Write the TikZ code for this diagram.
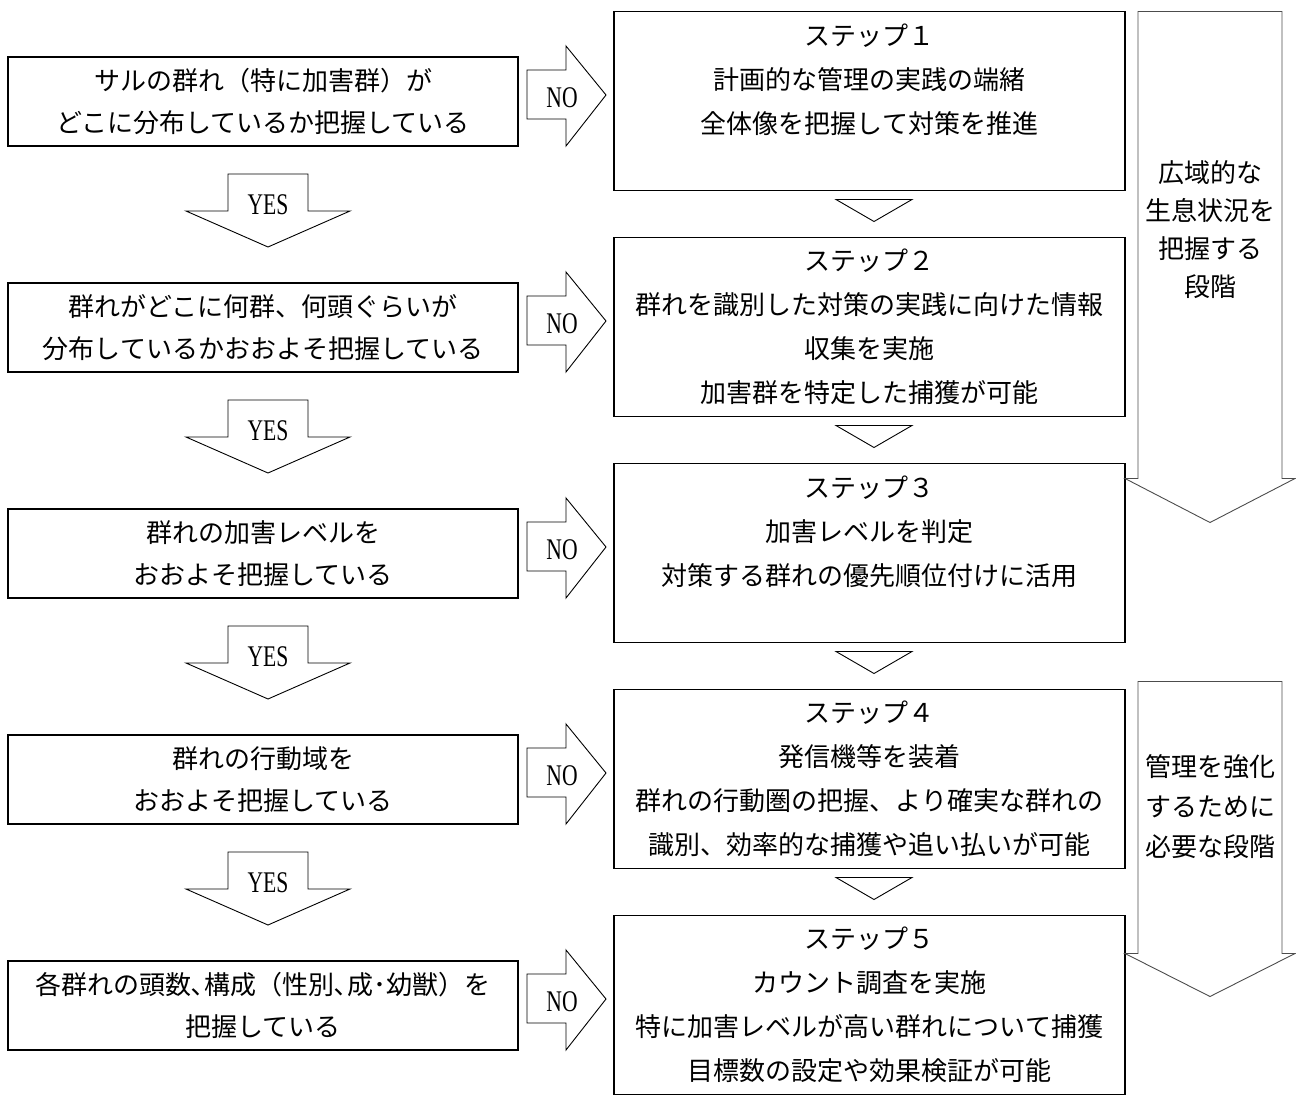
\documentclass[tikz,border=0pt]{standalone}
\usepackage{fontspec}
\usepackage{graphicx}
\setmainfont{Noto Sans CJK JP}
\newfontfamily\yesnofont{Liberation Serif}
\usetikzlibrary{
  positioning,
  calc}
\tikzset{
  %% question : the questions on the left
  question/.style={
    rectangle,
    draw=black,
    line width=1.6pt,
    minimum width=510pt,
    minimum height=89pt,
    inner sep=0pt,
    outer sep=0pt,
    font=\fontsize{26}{42}\selectfont,
    align=center
  },
  %% stepbox : one step of the management
  %%      ("step" is predefined and can't be used)
  stepbox/.style={
    rectangle,
    draw=black,
    line width=1.6pt,
    minimum width=511pt,
    minimum height=179pt,
    inner sep=0pt,
    outer sep=0pt,
    font=\fontsize{26}{44}\selectfont,
    align=center
  },
  %% blockarrow : outline of the YES / NO arrows
  blockarrow/.style={draw=black, line width=0.9pt},
  %% stagearrow : the big arrows on the right
  stagearrow/.style={draw=black!70, line width=0.9pt},
  %% stagetext : text inside the big arrows
  stagetext/.style={
    align=center,
    inner sep=0pt
  },
  %% answer : YES / NO
  answer/.style={
    font=\yesnofont\fontsize{30}{30}\selectfont,
    inner sep=0pt
  }
}
\tikzset{
  noarrow/.pic = {
    \draw [blockarrow] (9,-31.5) -- (48,-31.5) -- (48,-55.5) -- (88,-6.5)
      -- (48,44.5) -- (48,17.5) -- (9,17.5) -- cycle;
    \node (-t) [answer] at (44,-3.5) {\scalebox{0.72}[1]{NO}};
  }
}
\tikzset{
  yesarrow/.pic = {
    \draw [blockarrow] (-35,28) -- (45,28) -- (45,65) -- (87,65)
      -- (5,101) -- (-77,65) -- (-35,65) -- cycle;
    \node (-t) [answer] at (5,59) {\scalebox{0.72}[1]{YES}};
  }
}
\tikzset{
  nextstep/.pic = {
    \draw [blockarrow] (-33.5,9) -- (42.5,9) -- (4.5,31) -- cycle;
  }
}

\begin{document}
\begin{tikzpicture}
  [x=1pt,
  y=-1pt]

  \useasboundingbox (0,0) rectangle (1296,1095);

  %% Questions
  \node (q1) [question] at (263,101.5) {%
    サルの群れ（特に加害群）が\\どこに分布しているか把握している
  };

  \node (q2) [question, below=137pt of q1] {%
    群れがどこに何群、何頭ぐらいが\\分布しているかおおよそ把握している
  };

  \node (q3) [question, below=137pt of q2] {%
    群れの加害レベルを\\おおよそ把握している
  };

  \node (q4) [question, below=137pt of q3] {%
    群れの行動域を\\おおよそ把握している
  };

  \node (q5) [question, below=137pt of q4] {%
    各群れの頭数､構成（性別､成･幼獣）を\\把握している
  };

  %% Steps
  \node (s1) [stepbox] at (869.5,101) {%
    ステップ１\\計画的な管理の実践の端緒\\全体像を把握して対策を推進\\\phantom{ス}
  };

  \node (s2) [stepbox, below=47pt of s1] {%
    ステップ２\\群れを識別した対策の実践に向けた情報\\収集を実施\\加害群を特定した捕獲が可能
  };

  \node (s3) [stepbox, below=47pt of s2] {%
    ステップ３\\加害レベルを判定\\対策する群れの優先順位付けに活用\\\phantom{ス}
  };

  \node (s4) [stepbox, below=47pt of s3] {%
    ステップ４\\発信機等を装着\\群れの行動圏の把握、より確実な群れの\\識別、効率的な捕獲や追い払いが可能
  };

  \node (s5) [stepbox, below=47pt of s4] {%
    ステップ５\\カウント調査を実施\\特に加害レベルが高い群れについて捕獲\\目標数の設定や効果検証が可能
  };

  %% YES arrows
  \pic (y1) at (q1.south) {yesarrow};
  \pic (y2) at (q2.south) {yesarrow};
  \pic (y3) at (q3.south) {yesarrow};
  \pic (y4) at (q4.south) {yesarrow};

  %% NO arrows
  \pic (n1) at (q1.east) {noarrow};
  \pic (n2) at (q2.east) {noarrow};
  \pic (n3) at (q3.east) {noarrow};
  \pic (n4) at (q4.east) {noarrow};
  \pic (n5) at (q5.east) {noarrow};

  %% Between the steps
  \pic (t1) at (s1.south) {nextstep};
  \pic (t2) at (s2.south) {nextstep};
  \pic (t3) at (s3.south) {nextstep};
  \pic (t4) at (s4.south) {nextstep};

  %% Stages on the right
  \draw [stagearrow] ($(s1.north east)+(13,0)$) -- ++(144,0) -- ++(0,467)
    -- ++(13,0) -- ++(-85,44) -- ++(-85,-44) -- ++(13,0) -- cycle;
  \node (wide) [stagetext, font=\fontsize{26}{38}\selectfont] at
  ($(s1.north east)+(85,218)$) {%
    広域的な\\生息状況を\\把握する\\段階
  };

  \draw [stagearrow] ($(s4.north east)+(13,-8)$) -- ++(144,0) -- ++(0,272)
    -- ++(13,0) -- ++(-85,43) -- ++(-85,-43) -- ++(13,0) -- cycle;
  \node (strong) [stagetext, font=\fontsize{26}{40}\selectfont] at
  ($(s4.north east)+(85,117.5)$) {%
    管理を強化\\するために\\必要な段階
  };

\end{tikzpicture}
\end{document}
